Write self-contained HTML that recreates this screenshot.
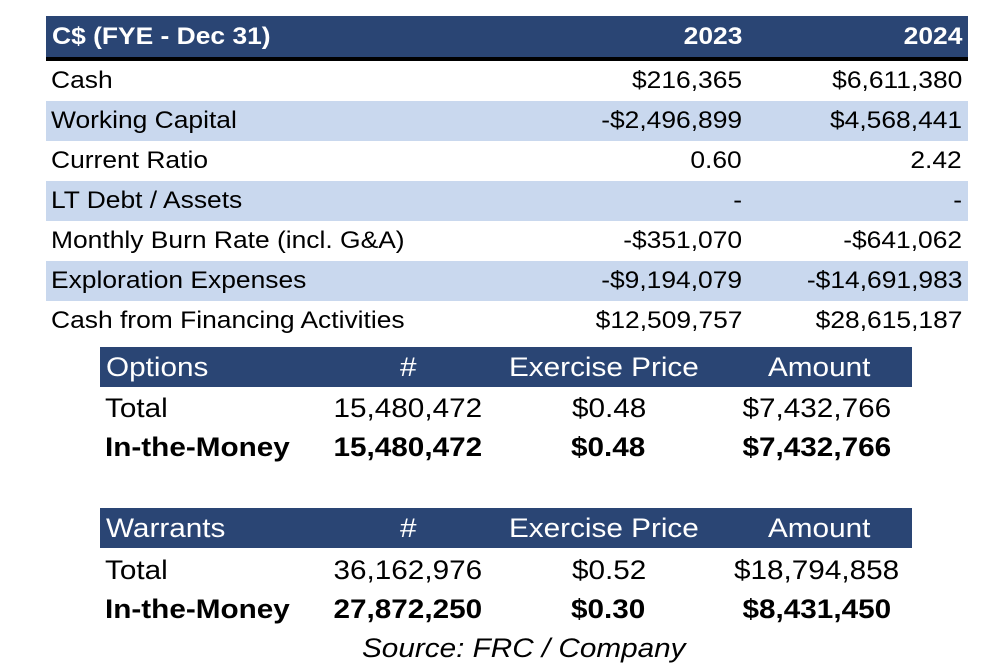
<!DOCTYPE html>
<html><head><style>
body{margin:0;width:984px;height:666px;background:#fff;position:relative;font-family:"Liberation Sans",Arial,sans-serif;overflow:hidden}
.a{position:absolute;white-space:nowrap;transform:scaleX(1.1);transform-origin:left center}
.R{transform-origin:right center}
.r{position:absolute;left:46px;width:922px;height:40px}
.t{font-size:24px;line-height:40px;color:#000}
.h{background:#2a4574;color:#fff}
.b{background:#c9d8ee}
.o{font-size:27px;line-height:40px}
.box{position:absolute}
</style></head><body>
<div class="r h" style="top:16px;height:41px"></div>
<div class="r" style="top:57px;height:4px;background:#000"></div>
<div class="a t" style="left:52px;top:17px;color:#fff;font-weight:bold">C$ (FYE - Dec 31)</div>
<div class="a R t" style="right:242px;top:17px;color:#fff;font-weight:bold">2023</div>
<div class="a R t" style="right:22px;top:17px;color:#fff;font-weight:bold">2024</div>

<div class="r b" style="top:101px"></div>
<div class="r b" style="top:181px"></div>
<div class="r b" style="top:261px"></div>

<div class="a t" style="left:51px;top:61px">Cash</div>
<div class="a R t" style="right:242px;top:61px">$216,365</div>
<div class="a R t" style="right:22px;top:61px">$6,611,380</div>
<div class="a t" style="left:51px;top:101px">Working Capital</div>
<div class="a R t" style="right:242px;top:101px">-$2,496,899</div>
<div class="a R t" style="right:22px;top:101px">$4,568,441</div>
<div class="a t" style="left:51px;top:141px">Current Ratio</div>
<div class="a R t" style="right:242px;top:141px">0.60</div>
<div class="a R t" style="right:22px;top:141px">2.42</div>
<div class="a t" style="left:51px;top:181px">LT Debt / Assets</div>
<div class="a R t" style="right:242px;top:181px">-</div>
<div class="a R t" style="right:22px;top:181px">-</div>
<div class="a t" style="left:51px;top:221px">Monthly Burn Rate (incl. G&amp;A)</div>
<div class="a R t" style="right:242px;top:221px">-$351,070</div>
<div class="a R t" style="right:22px;top:221px">-$641,062</div>
<div class="a t" style="left:51px;top:261px">Exploration Expenses</div>
<div class="a R t" style="right:242px;top:261px">-$9,194,079</div>
<div class="a R t" style="right:22px;top:261px">-$14,691,983</div>
<div class="a t" style="left:51px;top:301px">Cash from Financing Activities</div>
<div class="a R t" style="right:242px;top:301px">$12,509,757</div>
<div class="a R t" style="right:22px;top:301px">$28,615,187</div>

<div class="box h" style="left:100px;top:347px;width:812px;height:40px"></div>
<div class="a o" style="left:106px;top:347px;color:#fff">Options</div>
<div class="a o" style="left:400px;top:347px;color:#fff">#</div>
<div class="a o" style="left:509px;top:347px;color:#fff">Exercise Price</div>
<div class="a o" style="left:768px;top:347px;color:#fff">Amount</div>
<div class="a o" style="left:105px;top:388px">Total</div>
<div class="a R o" style="right:502px;top:388px">15,480,472</div>
<div class="a o" style="left:572px;top:388px">$0.48</div>
<div class="a R o" style="right:93px;top:388px">$7,432,766</div>
<div class="a o" style="left:105px;top:427px;font-weight:bold">In-the-Money</div>
<div class="a R o" style="right:502px;top:427px;font-weight:bold">15,480,472</div>
<div class="a o" style="left:571px;top:427px;font-weight:bold">$0.48</div>
<div class="a R o" style="right:93px;top:427px;font-weight:bold">$7,432,766</div>

<div class="box h" style="left:100px;top:508px;width:812px;height:40px"></div>
<div class="a o" style="left:106px;top:508px;color:#fff">Warrants</div>
<div class="a o" style="left:400px;top:508px;color:#fff">#</div>
<div class="a o" style="left:509px;top:508px;color:#fff">Exercise Price</div>
<div class="a o" style="left:768px;top:508px;color:#fff">Amount</div>
<div class="a o" style="left:105px;top:550px">Total</div>
<div class="a R o" style="right:85px;top:550px">$18,794,858</div>
<div class="a R o" style="right:502px;top:550px">36,162,976</div>
<div class="a o" style="left:572px;top:550px">$0.52</div>
<div class="a o" style="left:105px;top:589px;font-weight:bold">In-the-Money</div>
<div class="a R o" style="right:502px;top:589px;font-weight:bold">27,872,250</div>
<div class="a o" style="left:571px;top:589px;font-weight:bold">$0.30</div>
<div class="a R o" style="right:93px;top:589px;font-weight:bold">$8,431,450</div>

<div class="a" style="left:362px;top:630px;font-size:27px;font-style:italic;line-height:36px">Source: FRC / Company</div>
</body></html>
